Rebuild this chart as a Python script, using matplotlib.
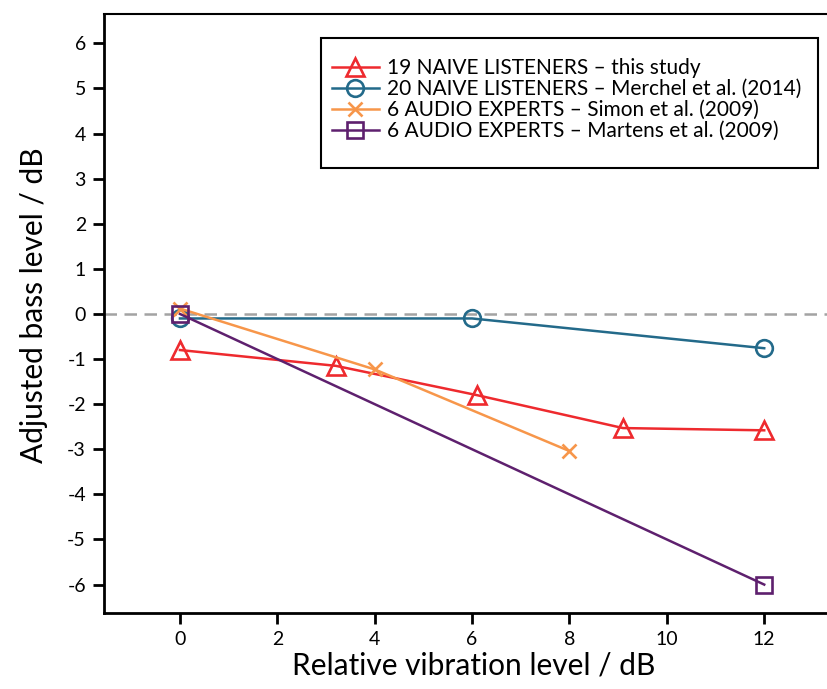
import matplotlib
matplotlib.use("Agg")
import matplotlib.pyplot as plt
from matplotlib.patches import Rectangle

plt.rcParams['font.family'] = ['Lato', 'DejaVu Sans']

x_this = [0, 3.2, 6.1, 9.1, 12]
y_this = [-0.8, -1.15, -1.8, -2.53, -2.58]
x_merchel = [0, 6, 12]
y_merchel = [-0.1, -0.1, -0.76]
x_simon = [0, 4, 8]
y_simon = [0.12, -1.23, -3.04]
x_martens = [0, 12]
y_martens = [0, -6]

labels = ["19 NAIVE LISTENERS \u2013 this study",
          "20 NAIVE LISTENERS \u2013 Merchel et al. (2014)",
          "6 AUDIO EXPERTS \u2013 Simon et al. (2009)",
          "6 AUDIO EXPERTS \u2013 Martens et al. (2009)"]
xticks = [0, 2, 4, 6, 8, 10, 12]
yticks = [-6, -5, -4, -3, -2, -1, 0, 1, 2, 3, 4, 5, 6]

fig = plt.figure(figsize=(8.28, 6.89), dpi=100)
ax = fig.add_axes([104/828, 76/689, 724/828, 599/689])

ax.axhline(0, color='#a3a3a3', lw=1.8, ls=(0, (5, 3)), zorder=1)

red = '#ee2a2e'
blue = '#236a8a'
orange = '#f7964a'
purple = '#5e206e'
ax.plot(x_this, y_this, color=red, lw=1.8, marker='^', ms=13, mfc='none', mec=red, mew=1.9, label=labels[0], zorder=3)
ax.plot(x_merchel, y_merchel, color=blue, lw=1.8, marker='o', ms=12, mfc='none', mec=blue, mew=1.9, label=labels[1], zorder=3)
ax.plot(x_simon, y_simon, color=orange, lw=1.8, marker='x', ms=10, mec=orange, mew=1.9, label=labels[2], zorder=3)
ax.plot(x_martens, y_martens, color=purple, lw=1.8, marker='s', ms=12, mfc='none', mec=purple, mew=1.9, label=labels[3], zorder=3)

ax.set_xlim(-1.56, 13.31)
ax.set_ylim(-6.63, 6.65)
ax.set_xticks(xticks)
ax.set_yticks(yticks)
ax.set_yticklabels([str(v) for v in yticks])
ax.tick_params(direction='out', length=8, width=2, labelsize=14, pad=5)
ax.spines['right'].set_visible(False)
ax.spines['left'].set_linewidth(2)
ax.spines['bottom'].set_linewidth(2)
ax.spines['top'].set_linewidth(1.5)

ax.set_xlabel('Relative vibration level / dB', fontsize=21.5)
ax.set_ylabel('Adjusted bass level / dB', fontsize=21.5)
ax.xaxis.set_label_coords((474 - 104) / 724, -0.064)
ax.yaxis.set_label_coords(-0.078, (613 - 305) / 599)

leg = ax.legend(loc='upper left', bbox_to_anchor=((332 - 104) / 724, (613 - 58) / 599),
                fontsize=15, frameon=False, handlelength=2.25, handletextpad=0.4,
                labelspacing=0.05, borderpad=0, borderaxespad=0)
ax.add_patch(Rectangle(((321 - 104) / 724, (613 - 168) / 599), (818 - 321) / 724, (168 - 38) / 599,
                       transform=ax.transAxes, fill=False, edgecolor='black', lw=1.5, zorder=5))

fig.savefig('out.png', dpi=100)
